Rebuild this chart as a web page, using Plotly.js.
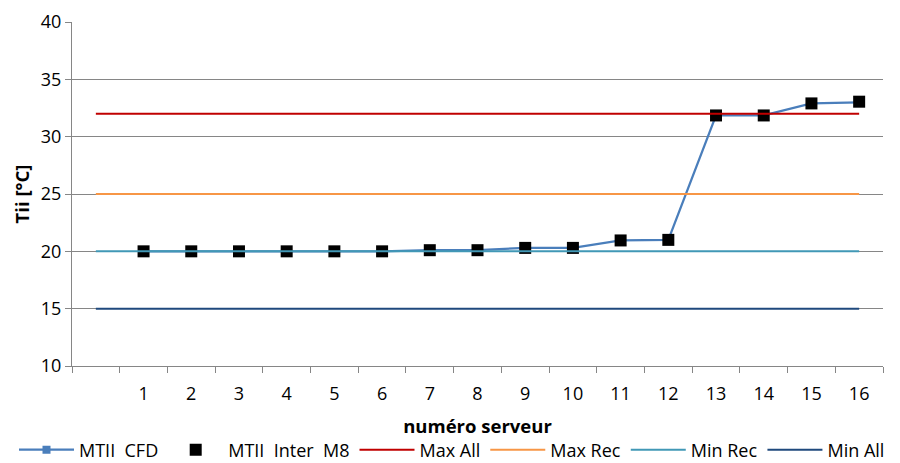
<!DOCTYPE html>
<html><head><meta charset="utf-8">
<script src="https://cdn.plot.ly/plotly-3.0.1.min.js"></script>
<style>html,body{margin:0;padding:0;background:#fff}#chart{width:900px;height:463px}</style>
</head><body><div id="chart"></div>
<script>
const servers = [1,2,3,4,5,6,7,8,9,10,11,12,13,14,15,16];
const mtiiCFD = [20.0,20.0,20.0,20.0,20.0,20.0,20.1,20.1,20.3,20.3,20.95,21.0,31.85,31.85,32.9,33.0];
const mtiiInterM8 = [20.0,20.0,20.0,20.0,20.0,20.0,20.1,20.1,20.3,20.3,20.95,21.0,31.85,31.85,32.9,33.05];
const limitX = [0,1,2,3,4,5,6,7,8,9,10,11,12,13,14,15,16];
const maxAll = 32, maxRec = 25, minRec = 20, minAll = 15;
const tickLabels = servers.map(String);

const font = "'Open Sans', sans-serif";
const cst = v => limitX.map(() => v);
const traces = [
  {x: servers, y: mtiiCFD, name: 'MTII\u00a0\u00a0CFD', mode: 'lines+markers',
   line: {color: '#4A7EBB', width: 2.25}, marker: {symbol: 'square', size: 8, color: '#4A7EBB'}},
  {x: servers, y: mtiiInterM8, name: 'MTII\u00a0\u00a0Inter\u00a0\u00a0M8', mode: 'markers',
   marker: {symbol: 'square', size: 12, color: '#000000', line: {color: '#000', width: 0}}},
  {x: limitX, y: cst(maxAll), name: 'Max All', mode: 'lines', line: {color: '#C00000', width: 2}},
  {x: limitX, y: cst(maxRec), name: 'Max Rec', mode: 'lines', line: {color: '#F79646', width: 2}},
  {x: limitX, y: cst(minRec), name: 'Min Rec', mode: 'lines', line: {color: '#4198B6', width: 2}},
  {x: limitX, y: cst(minAll), name: 'Min All', mode: 'lines', line: {color: '#1F497D', width: 2}}
];
const layout = {
  width: 900, height: 463,
  margin: {l: 72, r: 17, t: 22, b: 97, autoexpand: false},
  paper_bgcolor: '#fff', plot_bgcolor: '#fff',
  font: {family: font, size: 18, color: '#000'},
  showlegend: true,
  legend: {orientation: 'h', x: (14 - 72) / 811, xanchor: 'left',
           y: (366 - 450) / 344, yanchor: 'middle',
           font: {family: font, size: 18, color: '#000'}, tracegroupgap: 0, itemwidth: 55},
  xaxis: {range: [-0.5, 16.5], tickmode: 'array', tickvals: servers, ticktext: tickLabels,
          ticks: '', showgrid: false, zeroline: false, showline: true, linecolor: '#868686', linewidth: 1,
          ticklabelstandoff: 11, automargin: false,
          minor: {tick0: 0.5, dtick: 1, ticks: 'outside', ticklen: 6, tickcolor: '#868686', showgrid: false},
          title: {text: '<b>numéro serveur</b>', font: {family: font, size: 18.5}, standoff: 16}},
  yaxis: {range: [10, 40], dtick: 5, tick0: 10, ticks: 'outside', ticklen: 6, tickcolor: '#868686',
          showgrid: true, gridcolor: '#868686', gridwidth: 1, zeroline: false, automargin: false,
          showline: true, linecolor: '#868686', linewidth: 1,
          title: {text: '<b>Tii [°C]</b>', font: {family: font, size: 18.5}, standoff: 6}}
};
Plotly.newPlot('chart', traces, layout, {displayModeBar: false, staticPlot: true});
</script></body></html>
